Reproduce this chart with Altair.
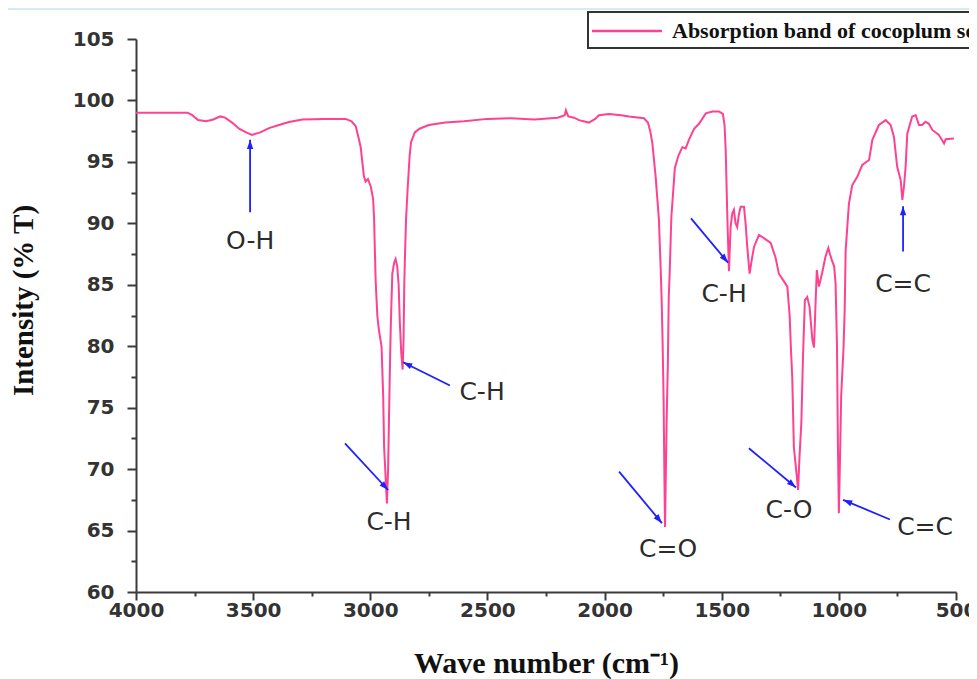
import math
import altair as alt
import pandas as pd

# ---------------- data ----------------
wavenumber = [
    4000, 3900, 3780, 3760, 3735, 3700, 3670, 3640, 3620, 3590, 3560, 3530, 3505, 3470,
    3432, 3390, 3347, 3290, 3200, 3105, 3080, 3062, 3048, 3041, 3034, 3027, 3020, 3010,
    2998, 2988, 2984, 2980, 2977, 2970, 2963, 2952, 2945, 2941, 2935, 2929, 2924, 2920,
    2915, 2912, 2906, 2898, 2892, 2885, 2879, 2874, 2868, 2862, 2858, 2855, 2851, 2847,
    2840, 2832, 2826, 2810, 2790, 2750, 2680, 2600, 2500, 2400, 2300, 2200, 2170, 2165,
    2155, 2130, 2109, 2067, 2040, 2024, 1981, 1930, 1896, 1832, 1815, 1805, 1796, 1782,
    1768, 1760, 1756, 1752, 1748, 1745, 1742, 1739, 1735, 1730, 1726, 1722, 1715, 1700,
    1685, 1668, 1654, 1640, 1618, 1597, 1568, 1540, 1512, 1495, 1488, 1483, 1476, 1469,
    1462, 1455, 1448, 1441, 1434, 1426, 1419, 1405, 1398, 1391, 1381, 1372, 1362, 1341,
    1320, 1291, 1270, 1256, 1235, 1220, 1210, 1205, 1199, 1192, 1180, 1174, 1168, 1160,
    1153, 1145, 1135, 1125, 1113, 1106, 1099, 1094, 1085, 1071, 1057, 1045, 1038, 1030,
    1020, 1014, 1008, 1004, 1000, 996, 990, 980, 975, 971, 957, 943, 921, 900,
    871, 857, 829, 800, 779, 765, 751, 736, 729, 722, 715, 708, 687, 672,
    658, 645, 630, 616, 601, 573, 551, 544, 509,
]
transmittance = [
    99.0, 99.0, 99.0, 98.8, 98.4, 98.3, 98.45, 98.7, 98.6, 98.2, 97.7, 97.4, 97.2, 97.4,
    97.75, 98.0, 98.25, 98.45, 98.5, 98.5, 98.3, 97.9, 96.8, 96.2, 95.0, 93.8, 93.4, 93.6,
    93.0, 92.0, 90.5, 87.5, 85.3, 82.5, 81.3, 80.0, 76.0, 71.8, 69.5, 67.2, 70.0, 74.3,
    79.5, 82.0, 85.9, 86.8, 87.1, 86.5, 85.0, 82.0, 79.5, 78.1, 80.5, 85.0, 88.0, 90.5,
    93.0, 95.5, 96.6, 97.4, 97.7, 98.0, 98.2, 98.3, 98.5, 98.55, 98.45, 98.6, 98.8, 99.2,
    98.7, 98.6, 98.4, 98.2, 98.5, 98.8, 98.9, 98.8, 98.7, 98.55, 98.2, 97.5, 96.5, 93.8,
    90.3, 86.0, 83.5, 80.0, 75.6, 70.0, 65.3, 69.0, 74.0, 78.5, 84.0, 86.0, 90.5, 94.5,
    95.5, 96.2, 96.1, 96.8, 97.7, 98.1, 98.95, 99.1, 99.1, 98.9, 98.0, 96.0, 90.5, 86.1,
    89.7, 90.8, 91.1, 90.0, 89.7, 90.8, 91.35, 91.35, 90.0, 88.1, 85.9, 87.0, 88.1, 89.05,
    88.8, 88.4, 87.2, 85.9, 85.3, 84.85, 82.5, 80.0, 77.5, 71.8, 69.5, 68.3, 71.0, 73.8,
    79.2, 83.75, 84.0, 83.2, 80.5, 79.9, 83.75, 86.2, 84.85, 86.0, 87.3, 88.0, 87.5, 87.0,
    86.5, 85.1, 80.0, 72.0, 66.4, 70.0, 76.0, 79.9, 83.0, 87.8, 91.6, 93.1, 93.8, 94.75,
    95.15, 96.8, 98.0, 98.4, 98.0, 97.05, 94.6, 93.5, 91.9, 93.0, 94.6, 97.3, 98.7, 98.8,
    98.0, 98.0, 98.27, 98.1, 97.6, 97.2, 96.5, 96.85, 96.9,
]
series_name = "Absorption band of cocoplum seed"

x_major = [4000, 3500, 3000, 2500, 2000, 1500, 1000, 500]
x_minor = [3750, 3250, 2750, 2250, 1750, 1250, 750]
y_major = [60, 65, 70, 75, 80, 85, 90, 95, 100, 105]
y_minor = [62.5, 67.5, 72.5, 77.5, 82.5, 87.5, 92.5, 97.5, 102.5]

ann_labels = ["O-H", "C-H", "C-H", "C=O", "C-H", "C-O", "C=C", "C=C"]
ann_text_wn = [3513, 2920, 2523, 1729, 1490, 1213, 632, 726]
ann_text_t = [88.6, 65.7, 76.3, 63.5, 84.25, 66.7, 65.3, 85.1]
arrow_from_wn = [3513, 3108, 2660, 1938, 1631, 1384, 782, 726]
arrow_from_t = [90.9, 72.1, 76.8, 69.8, 90.4, 71.7, 65.9, 87.7]
arrow_to_wn = [3513, 2924, 2860, 1755, 1473, 1183, 982, 726]
arrow_to_t = [96.8, 68.3, 78.7, 65.6, 86.8, 68.5, 67.5, 91.4]

# ---------------- layout / style ----------------
W, H = 820, 553
PAD = {"left": 128, "top": 31, "right": 13, "bottom": 87}
PINK = "#ff4191"
BLUE = "#2020ff"
AXIS_C = "#3a3a3a"
XDOM = [500, 4000]
YDOM = [60, 105]

spec_df = pd.DataFrame({
    "wn": wavenumber,
    "T": transmittance,
    "i": list(range(len(wavenumber))),
})

# arrow heads: rotate a custom arrow symbol to the arrow direction (pixel space)
sx = -W / (XDOM[1] - XDOM[0])  # px per wavenumber (reversed axis)
sy = -H / (YDOM[1] - YDOM[0])  # px per %T (screen y goes down)
HEAD_SIZE = 110
head_r = math.sqrt(HEAD_SIZE) / 2
head_wn, head_t, head_angle = [], [], []
for fw, ft, tw, tt in zip(arrow_from_wn, arrow_from_t, arrow_to_wn, arrow_to_t):
    dx = (tw - fw) * sx
    dy = (tt - ft) * sy
    L = math.hypot(dx, dy)
    ux, uy = dx / L, dy / L
    head_wn.append(tw - head_r * ux / sx)
    head_t.append(tt - head_r * uy / sy)
    head_angle.append(math.degrees(math.atan2(dx, -dy)) % 360)

arrow_df = pd.DataFrame({
    "x0": arrow_from_wn, "y0": arrow_from_t, "x1": arrow_to_wn, "y1": arrow_to_t,
    "hx": head_wn, "hy": head_t, "ang": head_angle,
})
text_df = pd.DataFrame({"label": ann_labels, "tx": ann_text_wn, "ty": ann_text_t})
legend_df = pd.DataFrame({"name": [series_name]})

xs = alt.Scale(domain=XDOM, reverse=True, nice=False, zero=False)
ys = alt.Scale(domain=YDOM, nice=False, zero=False)

common_axis = dict(
    grid=False, domainColor=AXIS_C, domainWidth=2, tickColor=AXIS_C, tickWidth=2,
    labelFont="DejaVu Sans", labelFontSize=20, labelFontWeight="bold", labelColor="#333333",
)

line = alt.Chart(spec_df).mark_line(strokeWidth=2, color=PINK).encode(
    x=alt.X("wn:Q", scale=xs, axis=alt.Axis(
        orient="bottom", values=x_major, format="d", tickSize=8, labelPadding=0,
        title="Wave number (cm⁻¹)", titleFont="Liberation Serif", titleFontSize=30,
        titleFontWeight="bold", titleColor="#111111", titleY=80, titleBaseline="alphabetic",
        labelFlush=False, labelOverlap=False, **common_axis)),
    y=alt.Y("T:Q", scale=ys, axis=alt.Axis(
        orient="left", values=y_major, format="d", tickSize=9, labelPadding=13,
        title="Intensity (% T)", titleFont="Liberation Serif", titleFontSize=29,
        titleFontWeight="bold", titleColor="#111111", titleAngle=270, titleX=-113,
        titleY=261, titleAlign="center", titleBaseline="middle",
        labelFlush=False, labelOverlap=False, **common_axis)),
    order="i:Q",
)

minor = alt.Chart(spec_df).mark_point(opacity=0).encode(
    x=alt.X("wn:Q", scale=xs, axis=alt.Axis(
        orient="bottom", values=x_minor, tickSize=4, labels=False, domain=False, grid=False,
        tickColor=AXIS_C, tickWidth=2, title=None)),
    y=alt.Y("T:Q", scale=ys, axis=alt.Axis(
        orient="left", values=y_minor, tickSize=5, labels=False, domain=False, grid=False,
        tickColor=AXIS_C, tickWidth=2, title=None)),
)

shafts = alt.Chart(arrow_df).mark_rule(color=BLUE, strokeWidth=1.8).encode(
    x=alt.X("x0:Q", scale=xs, axis=None),
    y=alt.Y("y0:Q", scale=ys, axis=None),
    x2="x1:Q",
    y2="y1:Q",
)

heads = alt.Chart(arrow_df).mark_point(
    shape="M0,-1L0.6,0.75L-0.6,0.75Z", filled=True, color=BLUE, opacity=1, size=HEAD_SIZE
).encode(
    x=alt.X("hx:Q", scale=xs, axis=None),
    y=alt.Y("hy:Q", scale=ys, axis=None),
    angle=alt.Angle("ang:Q", scale=None),
)

labels = alt.Chart(text_df).mark_text(
    font="DejaVu Sans", fontSize=25, color="#2b2b2b", align="center", baseline="middle"
).encode(
    x=alt.X("tx:Q", scale=xs, axis=None),
    y=alt.Y("ty:Q", scale=ys, axis=None),
    text="label:N",
)

# legend box (drawn above the plot area, running off the right edge as in the reference)
leg_box = alt.Chart(legend_df).mark_rect(
    fill="white", stroke="#333333", strokeWidth=2
).encode(
    x=alt.value(452), x2=alt.value(W + 40), y=alt.value(-27), y2=alt.value(9)
)
leg_line = alt.Chart(legend_df).mark_rule(color=PINK, strokeWidth=2.5).encode(
    x=alt.value(456), x2=alt.value(526), y=alt.value(-8)
)
leg_text = alt.Chart(legend_df).mark_text(
    font="Liberation Serif", fontWeight="bold", fontSize=22, color="#111111",
    align="left", baseline="alphabetic"
).encode(
    x=alt.value(536), y=alt.value(-1), text="name:N"
)

top_strip = alt.Chart(legend_df).mark_rule(color="#d6ebf2", strokeWidth=2).encode(
    x=alt.value(-PAD["left"]), x2=alt.value(W + PAD["right"]), y=alt.value(-PAD["top"] + 1)
)

chart = alt.layer(
    minor, line, shafts, heads, labels, leg_box, leg_line, leg_text, top_strip
).resolve_axis(
    x="independent", y="independent"
).properties(
    width=W, height=H, padding=PAD, autosize=alt.AutoSizeParams(type="none"),
    background="white",
).configure_view(stroke=None)

chart.save("out.html", embed_options={"renderer": "svg", "actions": False})
